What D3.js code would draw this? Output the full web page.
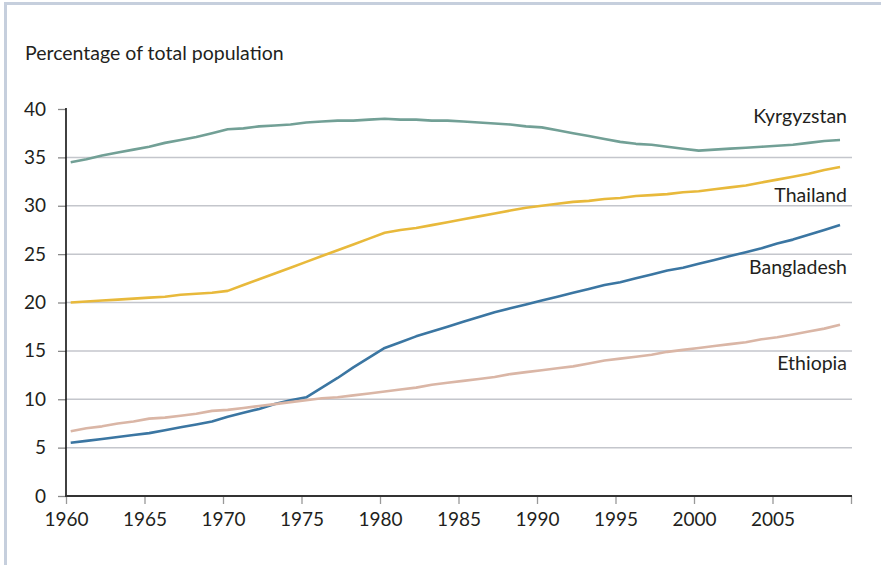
<!DOCTYPE html>
<html>
<head>
<meta charset="utf-8">
<script src="https://cdn.jsdelivr.net/npm/d3@7"></script>
<style>
  html, body { margin: 0; padding: 0; background: #fff; }
  svg { display: block; }
  text { font-family: Lato, "Open Sans", sans-serif; fill: #231f20; }
</style>
</head>
<body>
<svg id="chart" width="881" height="565"></svg>
<script>
const years = d3.range(1960, 2010);
const kyrgyzstan = [34.5,34.8,35.2,35.5,35.8,36.1,36.5,36.8,37.1,37.5,37.9,38.0,38.2,38.3,38.4,38.6,38.7,38.8,38.8,38.9,39.0,38.9,38.9,38.8,38.8,38.7,38.6,38.5,38.4,38.2,38.1,37.8,37.5,37.2,36.9,36.6,36.4,36.3,36.1,35.9,35.7,35.8,35.9,36.0,36.1,36.2,36.3,36.5,36.7,36.8];
const thailand = [20.0,20.1,20.2,20.3,20.4,20.5,20.6,20.8,20.9,21.0,21.2,21.8,22.4,23.0,23.6,24.2,24.8,25.4,26.0,26.6,27.2,27.5,27.7,28.0,28.3,28.6,28.9,29.2,29.5,29.8,30.0,30.2,30.4,30.5,30.7,30.8,31.0,31.1,31.2,31.4,31.5,31.7,31.9,32.1,32.4,32.7,33.0,33.3,33.7,34.0];
const bangladesh = [5.5,5.7,5.9,6.1,6.3,6.5,6.8,7.1,7.4,7.7,8.2,8.6,9.0,9.5,9.9,10.2,11.2,12.2,13.3,14.3,15.3,15.9,16.5,17.0,17.5,18.0,18.5,19.0,19.4,19.8,20.2,20.6,21.0,21.4,21.8,22.1,22.5,22.9,23.3,23.6,24.0,24.4,24.8,25.2,25.6,26.1,26.5,27.0,27.5,28.0];
const ethiopia = [6.7,7.0,7.2,7.5,7.7,8.0,8.1,8.3,8.5,8.8,8.9,9.1,9.3,9.5,9.7,9.9,10.1,10.2,10.4,10.6,10.8,11.0,11.2,11.5,11.7,11.9,12.1,12.3,12.6,12.8,13.0,13.2,13.4,13.7,14.0,14.2,14.4,14.6,14.9,15.1,15.3,15.5,15.7,15.9,16.2,16.4,16.7,17.0,17.3,17.7];
const seriesNames = ["Kyrgyzstan", "Thailand", "Bangladesh", "Ethiopia"];
const xTicks = [1960,1965,1970,1975,1980,1985,1990,1995,2000,2005,2010];
const xTickLabels = ["1960","1965","1970","1975","1980","1985","1990","1995","2000","2005",""];
const yTicks = [0,5,10,15,20,25,30,35,40];
const yTitle = "Percentage of total population";

const series = [
  {name: seriesNames[0], values: kyrgyzstan, color: "#72a096", labelY: 122.5},
  {name: seriesNames[1], values: thailand, color: "#e8b93b", labelY: 201.5},
  {name: seriesNames[2], values: bangladesh, color: "#3b76a2", labelY: 274},
  {name: seriesNames[3], values: ethiopia, color: "#dab6a6", labelY: 370}
];

const svg = d3.select("#chart");

// frame
svg.append("line").attr("x1", 4).attr("x2", 881).attr("y1", 3.5).attr("y2", 3.5)
  .attr("stroke", "#c6cfdd").attr("stroke-width", 3);
svg.append("line").attr("x1", 5.5).attr("x2", 5.5).attr("y1", 2).attr("y2", 565)
  .attr("stroke", "#c6cfdd").attr("stroke-width", 3);

const x = d3.scaleLinear().domain([1960, 2010]).range([66, 851]);
const y = d3.scaleLinear().domain([0, 40]).range([496, 109]);
const xOffset = 0.3;

// gridlines
svg.append("g").selectAll("line").data(yTicks.filter(v => v > 0 && v < 40)).join("line")
  .attr("x1", 66).attr("x2", 852)
  .attr("y1", d => y(d)).attr("y2", d => y(d))
  .attr("stroke", "#c4c6cc").attr("stroke-width", 1.5);

// y axis
const yAxis = svg.append("g").attr("transform", "translate(66,0)")
  .call(d3.axisLeft(y).tickValues(yTicks).tickSize(8).tickPadding(12).tickFormat(d3.format("d")));
yAxis.select(".domain").remove();
yAxis.selectAll(".tick line").attr("stroke", "#888").attr("stroke-width", 1.3);
yAxis.selectAll("text").attr("font-size", 19).attr("fill", "#231f20")
  .style("font-family", "Lato, 'Open Sans', sans-serif");
svg.append("line").attr("x1", 66).attr("x2", 66).attr("y1", 108).attr("y2", 497)
  .attr("stroke", "#111").attr("stroke-width", 1.6);

// x axis
const xAxis = svg.append("g").attr("transform", "translate(0,496)")
  .call(d3.axisBottom(x).tickValues(xTicks).tickSize(8).tickPadding(9)
    .tickFormat((d, i) => xTickLabels[i]));
xAxis.select(".domain").remove();
xAxis.selectAll(".tick line").attr("stroke", "#999").attr("stroke-width", 1.3);
xAxis.selectAll("text").attr("font-size", 19).attr("fill", "#231f20")
  .style("font-family", "Lato, 'Open Sans', sans-serif");
svg.append("line").attr("x1", 65).attr("x2", 852).attr("y1", 496).attr("y2", 496)
  .attr("stroke", "#333").attr("stroke-width", 2);

// lines
const line = d3.line().x((d, i) => x(years[i] + xOffset)).y(d => y(d));
svg.append("g").selectAll("path").data(series).join("path")
  .attr("d", d => line(d.values))
  .attr("fill", "none")
  .attr("stroke", d => d.color)
  .attr("stroke-width", 2.6)
  .attr("stroke-linejoin", "round");

// series labels
svg.append("g").selectAll("text").data(series).join("text")
  .attr("x", 847).attr("y", d => d.labelY)
  .attr("text-anchor", "end").attr("font-size", 19.5)
  .text(d => d.name);

// title
svg.append("text").attr("x", 25).attr("y", 60).attr("font-size", 19.5).text(yTitle);
</script>
</body>
</html>
